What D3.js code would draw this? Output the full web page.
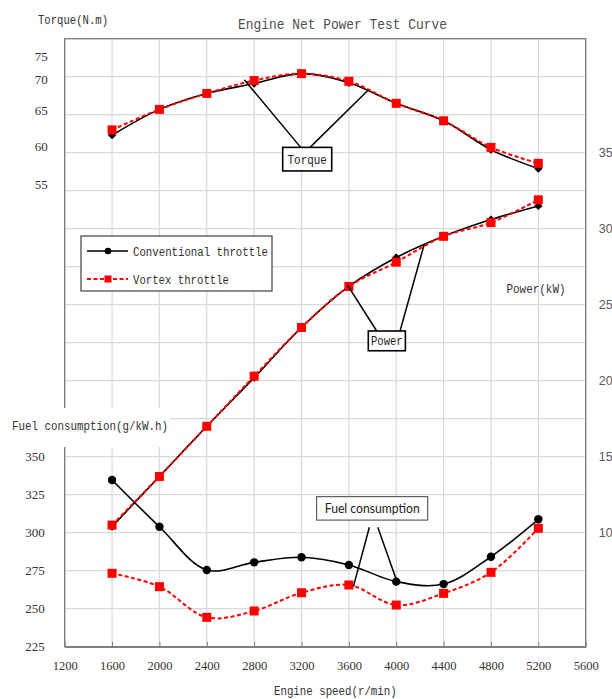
<!DOCTYPE html>
<html>
<head>
<meta charset="utf-8">
<script src="https://cdn.jsdelivr.net/npm/d3@7/dist/d3.min.js"></script>
<style>
  html, body { margin: 0; padding: 0; background: #fff; }
  svg { display: block; }
</style>
</head>
<body>
<svg id="chart" width="612" height="699"></svg>
<script>
// Engine speed (r/min)
const speeds = [1600, 2000, 2400, 2800, 3200, 3600, 4000, 4400, 4800, 5200];
const speedTicks = [1200, 1600, 2000, 2400, 2800, 3200, 3600, 4000, 4400, 4800, 5200, 5600];

// Torque (N.m)
const torqueConventional = [62.3, 65.7, 67.8, 69.1, 70.4, 69.2, 66.5, 64.2, 60.4, 57.9];
const torqueVortex       = [63.0, 65.7, 67.8, 69.5, 70.4, 69.4, 66.5, 64.2, 60.7, 58.6];

// Power (kW)
const powerConventional = [10.4, 13.7, 17.0, 20.2, 23.5, 26.2, 28.1, 29.5, 30.6, 31.5];
const powerVortex       = [10.5, 13.7, 17.0, 20.3, 23.5, 26.2, 27.8, 29.5, 30.4, 31.9];

// Fuel consumption (g/kW.h)
const fuelConventional = [334.7, 303.9, 275.5, 280.5, 283.8, 278.8, 267.8, 266.2, 284.2, 308.8];
const fuelVortex       = [273.3, 264.5, 244.3, 248.5, 260.5, 265.6, 252.4, 260.1, 273.9, 302.9];

// Axis tick labels
const torqueTicks = [55, 60, 65, 70, 75];
const powerTicks = [10, 15, 20, 25, 30, 35];
const fuelTicks = [225, 250, 275, 300, 325, 350];

const seriesNames = ["Conventional throttle", "Vortex throttle"];

const svg = d3.select("#chart");
const mono = "'Liberation Mono', 'DejaVu Sans Mono', monospace";
const serif = "'Liberation Serif', 'DejaVu Serif', serif";

const plotL = 64.7, plotR = 585.7, plotT = 38.7, plotB = 646.7;

const x = d3.scaleLinear().domain([1200, 5600]).range([plotL, plotR]);
// Three value scales sharing one grid of 16 rows
const yT = d3.scaleLinear().domain([-5, 75]).range([plotB, plotT]);
const yP = d3.scaleLinear().domain([2.5, 42.5]).range([plotB, plotT]);
const yF = d3.scaleLinear().domain([225, 625]).range([plotB, plotT]);

// Narrow monospaced label: glyphs squeezed to a fixed advance
function monoText(sel, str, px, py, size, width, anchor) {
  return sel.append("text").attr("x", px).attr("y", py)
    .attr("text-anchor", anchor || "start")
    .attr("font-family", mono).attr("font-size", size).attr("fill", "#333")
    .attr("textLength", width).attr("lengthAdjust", "spacingAndGlyphs")
    .text(str);
}

// Grid
const gridRows = d3.range(5, 42.5, 2.5);
svg.append("g").selectAll("line").data(gridRows).join("line")
  .attr("x1", plotL).attr("x2", plotR)
  .attr("y1", d => yP(d)).attr("y2", d => yP(d))
  .attr("stroke", "#d9d9d9").attr("stroke-width", 1.2);
svg.append("g").selectAll("line").data(speedTicks.slice(1, -1)).join("line")
  .attr("x1", d => x(d)).attr("x2", d => x(d))
  .attr("y1", plotT).attr("y2", plotB)
  .attr("stroke", "#d9d9d9").attr("stroke-width", 1.2);

// Frame
svg.append("rect")
  .attr("x", plotL).attr("y", plotT)
  .attr("width", plotR - plotL).attr("height", plotB - plotT)
  .attr("fill", "none").attr("stroke", "#808080").attr("stroke-width", 1.4);

// Bottom axis
const xAxis = svg.append("g")
  .attr("transform", `translate(0,${plotB})`)
  .call(d3.axisBottom(x).tickValues(speedTicks).tickSizeInner(-5).tickSizeOuter(0).tickPadding(14).tickFormat(d3.format("d")));
xAxis.select(".domain").attr("stroke", "#808080").attr("stroke-width", 1.4);
xAxis.selectAll(".tick line").attr("stroke", "#808080");
xAxis.selectAll("text").attr("font-family", serif).attr("font-size", 12.5).attr("fill", "#333");

// Left torque axis (labels only)
const torqueShift = {75: 18, 70: 2.5, 65: -4, 60: -6, 55: -6};
const tAxis = svg.append("g")
  .attr("transform", `translate(${plotL},0)`)
  .call(d3.axisLeft(yT).tickValues(torqueTicks).tickSize(0).tickPadding(17));
tAxis.select(".domain").remove();
tAxis.selectAll("text")
  .attr("font-family", serif).attr("font-size", 13).attr("fill", "#333")
  .attr("transform", d => `translate(0,${torqueShift[d]})`);

// Left fuel axis (labels only)
const fAxis = svg.append("g")
  .attr("transform", `translate(${plotL},0)`)
  .call(d3.axisLeft(yF).tickValues(fuelTicks).tickSize(0).tickPadding(20));
fAxis.select(".domain").remove();
fAxis.selectAll("text")
  .attr("font-family", serif).attr("font-size", 13).attr("fill", "#333");

// Right power axis (labels only)
const pAxis = svg.append("g")
  .attr("transform", `translate(${plotR},0)`)
  .call(d3.axisRight(yP).tickValues(powerTicks).tickSize(0).tickPadding(13));
pAxis.select(".domain").remove();
pAxis.selectAll("text")
  .attr("font-family", "'Liberation Sans', Arial, sans-serif").attr("font-size", 12.5).attr("fill", "#595959");

// Titles
monoText(svg, "Engine Net Power Test Curve", 238, 29, 14.5, 209).attr("fill", "#505050");
monoText(svg, "Torque(N.m)", 38, 24, 12.5, 70);
monoText(svg, "Power(kW)", 506.5, 293, 12.5, 59);
monoText(svg, "Engine speed(r/min)", 274, 695, 12.5, 122.7);
svg.append("rect").attr("x", 0).attr("y", 408).attr("width", 170).attr("height", 39).attr("fill", "#fff");
monoText(svg, "Fuel consumption(g/kW.h)", 12, 430, 12.5, 156);

// Curves
const curve = d3.curveCatmullRom.alpha(0.5);
function drawSeries(values, yScale, kind) {
  const pts = speeds.map((s, i) => [s, values[i]]);
  const line = d3.line().x(d => x(d[0])).y(d => yScale(d[1])).curve(curve);
  const g = svg.append("g");
  if (kind === "conv") {
    g.append("path").attr("d", line(pts)).attr("fill", "none")
      .attr("stroke", "#000").attr("stroke-width", 1.6);
  } else {
    g.append("path").attr("d", line(pts)).attr("fill", "none")
      .attr("stroke", "#ff0000").attr("stroke-width", 2).attr("stroke-dasharray", "4,2.5");
  }
  return { g, pts, yScale };
}
function circles(s, r) {
  s.g.selectAll("circle").data(s.pts).join("circle")
    .attr("cx", d => x(d[0])).attr("cy", d => s.yScale(d[1])).attr("r", r).attr("fill", "#000");
}
function diamonds(s) {
  s.g.selectAll("path.mk").data(s.pts).join("path").attr("class", "mk")
    .attr("transform", d => `translate(${x(d[0])},${s.yScale(d[1])})`)
    .attr("d", d3.symbol(d3.symbolDiamond2, 44)).attr("fill", "#000");
}
function squares(s, size) {
  s.g.selectAll("rect").data(s.pts).join("rect")
    .attr("x", d => x(d[0]) - size / 2).attr("y", d => s.yScale(d[1]) - size / 2)
    .attr("width", size).attr("height", size).attr("fill", "#ff0000");
}

diamonds(drawSeries(torqueConventional, yT, "conv"));
diamonds(drawSeries(powerConventional, yP, "conv"));
circles(drawSeries(fuelConventional, yF, "conv"), 4.2);
squares(drawSeries(torqueVortex, yT, "vortex"), 9);
squares(drawSeries(powerVortex, yP, "vortex"), 9);
squares(drawSeries(fuelVortex, yF, "vortex"), 9);

// Callouts: box in data units plus leader lines to the curves
function callout(yScale, box, leaders, label, font, size, textLen) {
  const g = svg.append("g");
  leaders.forEach(l => {
    g.append("line")
      .attr("x1", x(l[0])).attr("y1", yScale(l[1]))
      .attr("x2", x(l[2])).attr("y2", yScale(l[3]))
      .attr("stroke", "#000").attr("stroke-width", 1.5);
  });
  const bx = x(box[0]), by = yScale(box[3]);
  const bw = x(box[1]) - bx, bh = yScale(box[2]) - by;
  g.append("rect").attr("x", bx).attr("y", by).attr("width", bw).attr("height", bh)
    .attr("fill", "#fff").attr("stroke", font === mono ? "#000" : "#404040")
    .attr("stroke-width", font === mono ? 1.6 : 1);
  g.append("text").attr("x", bx + bw / 2).attr("y", by + bh / 2 + size * 0.36)
    .attr("text-anchor", "middle").attr("font-family", font).attr("font-size", size)
    .attr("fill", "#222").attr("textLength", textLen).attr("lengthAdjust", "spacingAndGlyphs")
    .text(label);
}

callout(yT, [3041, 3455, 57.6, 60.7],
  [[3193, 60.7, 2717, 69.6], [3272, 60.7, 3764, 68.25]],
  "Torque", mono, 12.5, 39.4);
callout(yP, [3764, 4077, 21.97, 23.27],
  [[3835, 23.27, 3587, 26.3], [4032, 23.27, 4235, 28.93]],
  "Power", mono, 12.5, 31.7);
callout(yF, [3328, 4266, 308.3, 323.7],
  [[3773, 303.6, 3638, 264.5], [3844, 303.6, 4004, 268.4]],
  "Fuel consumption", "Lato, 'Open Sans', sans-serif", 13, 95);

// Legend
const lg = svg.append("g");
lg.append("rect").attr("x", 81).attr("y", 236).attr("width", 191).attr("height", 55)
  .attr("fill", "#fff").attr("stroke", "#404040").attr("stroke-width", 1.2);
const legendRows = [251, 279];
const legendWidths = [135, 96];
seriesNames.forEach((name, i) => {
  const yy = legendRows[i];
  if (i === 0) {
    lg.append("line").attr("x1", 87).attr("x2", 128).attr("y1", yy).attr("y2", yy)
      .attr("stroke", "#000").attr("stroke-width", 1.6);
    lg.append("circle").attr("cx", 108).attr("cy", yy).attr("r", 3.3).attr("fill", "#000");
  } else {
    lg.append("line").attr("x1", 87).attr("x2", 128).attr("y1", yy).attr("y2", yy)
      .attr("stroke", "#ff0000").attr("stroke-width", 2).attr("stroke-dasharray", "4,2.5");
    lg.append("rect").attr("x", 104.5).attr("y", yy - 3.5).attr("width", 7).attr("height", 7).attr("fill", "#ff0000");
  }
  monoText(lg, name, 133, yy + 4.5, 12.5, legendWidths[i]);
});
</script>
</body>
</html>
